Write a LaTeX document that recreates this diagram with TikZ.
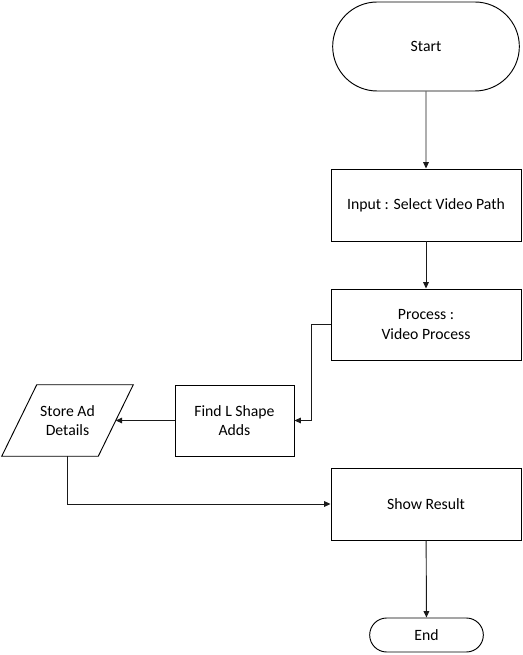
\documentclass[tikz,border=0pt]{standalone}
\usepackage{fontspec}
\setmainfont{Carlito}
\usepackage{tikz}
\usetikzlibrary{arrows.meta,positioning,shapes.misc,calc}
\definecolor{ink}{HTML}{000000}
\definecolor{wire}{HTML}{1A1A1A}
\tikzset{
  terminal/.style={rounded rectangle,draw=ink,fill=white,line width=0.7pt,
                   align=center,inner sep=2pt,font=\fontsize{11.8}{14.3}\selectfont},
  procbox/.style={rectangle,draw=ink,fill=white,line width=0.7pt,
                  align=center,inner sep=2pt,font=\fontsize{11.8}{14.3}\selectfont},
  iobox/.style={rectangle,align=center,inner sep=2pt,
                font=\fontsize{11.8}{14.3}\selectfont},
  flowarr/.style={-{Triangle[length=1.7mm,width=1.5mm]},line width=0.7pt,
                  draw=wire}
}
\begin{document}
\begin{tikzpicture}[x=0.75pt,y=-0.75pt]
    \path[use as bounding box] (0,0) rectangle (523,655);

    \node[terminal,minimum width=144pt,minimum height=66.75pt]
      (start) at (426,46.5) {Start};
    \node[procbox,minimum width=142.5pt,minimum height=54pt]
      (input) at (426,205) {Input : Select Video Path};
    \node[procbox,minimum width=142.5pt,minimum height=53.25pt]
      (proc) at (426,324.5) {Process :\\Video Process};
    \node[procbox,minimum width=89.25pt,minimum height=53.25pt]
      (find) at (234.5,420.5) {Find L Shape\\Adds};
    \node[iobox,minimum width=72pt,minimum height=53.25pt]
      (store) at (67.5,420.5) {Store Ad\\Details};
    % slanted outline of the data box
    \draw[draw=ink,line width=0.7pt]
      ($(store.south west)+(-17.5,0)$) -- ($(store.south east)+(-17.5,0)$)
      -- ($(store.north east)+(17.5,0)$) -- ($(store.north west)+(17.5,0)$)
      -- cycle;
    \node[procbox,minimum width=142.5pt,minimum height=54pt]
      (show) at (426,504) {Show Result};
    \node[terminal,minimum width=89.25pt,minimum height=25.5pt]
      (end) at (426.5,635) {End};

    \draw[flowarr] (start) -- (input);
    \draw[flowarr] (input) -- (proc);
    \draw[flowarr] (proc.west) -- ++(-19,0) |- (find.east);
    \draw[flowarr] (find.west) -- (store.east);
    \draw[flowarr] (store.south) |- (show.west);
    \draw[flowarr] (show) -- (end);
  \end{tikzpicture}
\end{document}
